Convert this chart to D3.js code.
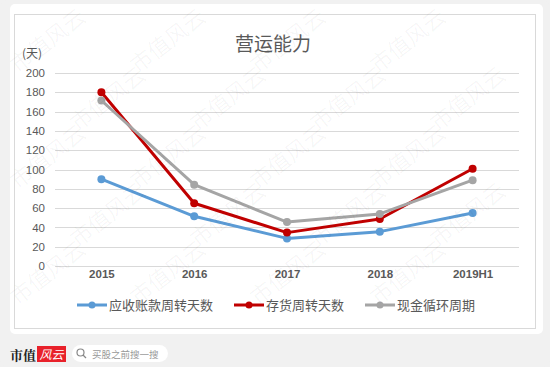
<!DOCTYPE html>
<html>
<head>
<meta charset="utf-8">
<script src="https://cdn.jsdelivr.net/npm/d3@7/dist/d3.min.js"></script>
<style>
  html, body { margin: 0; padding: 0; background: #f1f1f1; }
  svg { display: block; font-family: "Liberation Sans", "Noto Sans CJK SC", sans-serif; }
</style>
</head>
<body>
<svg id="chart" width="550" height="367"></svg>
<script>
'use strict';

var categories = ['2015', '2016', '2017', '2018', '2019H1'];
var receivableDays = [90, 51.5, 28.6, 35.6, 55];
var inventoryDays = [180, 65, 34.6, 48.7, 100.8];
var cashCycle = [171.5, 84.3, 45.5, 54, 88.9];
var yTicks = [0, 20, 40, 60, 80, 100, 120, 140, 160, 180, 200];

var series = [
  { name: '应收账款周转天数', values: receivableDays, color: '#5b9bd5' },
  { name: '存货周转天数', values: inventoryDays, color: '#c00000' },
  { name: '现金循环周期', values: cashCycle, color: '#a5a5a5' }
];

var svg = d3.select('#chart');
var cjk = '"Noto Sans CJK SC", sans-serif';

// card + chart frame
svg.append('rect')
  .attr('x', 0).attr('y', 0).attr('width', 550).attr('height', 367)
  .attr('rx', 8).attr('fill', '#f1f1f1');
svg.append('rect')
  .attr('x', 10).attr('y', 4).attr('width', 533).attr('height', 330)
  .attr('rx', 5).attr('fill', '#fff');
svg.append('rect')
  .attr('x', 14.5).attr('y', 14.5).attr('width', 521).attr('height', 314)
  .attr('fill', 'none').attr('stroke', '#d9d9d9');

var x = d3.scalePoint()
  .domain(categories)
  .range([55, 519])
  .padding(0.5);

var y = d3.scaleLinear()
  .domain([0, 200])
  .range([266, 73]);

// gridlines
svg.append('g')
  .selectAll('line')
  .data(yTicks)
  .enter().append('line')
  .attr('x1', 55).attr('x2', 519)
  .attr('y1', function(d) { return Math.round(y(d)) + 0.5; })
  .attr('y2', function(d) { return Math.round(y(d)) + 0.5; })
  .attr('stroke', '#d9d9d9').attr('stroke-width', 1);

var yAxis = svg.append('g')
  .attr('transform', 'translate(45,0)')
  .call(d3.axisLeft(y).tickValues(yTicks).tickSize(0).tickPadding(0));
yAxis.select('.domain').remove();
yAxis.selectAll('text')
  .attr('fill', '#595959').attr('font-size', 11.5)
  .attr('font-family', '"Liberation Sans", sans-serif');

var xAxis = svg.append('g')
  .attr('transform', 'translate(0,270)')
  .call(d3.axisBottom(x).tickSize(0).tickPadding(0));
xAxis.select('.domain').remove();
xAxis.selectAll('text')
  .attr('fill', '#595959').attr('font-size', 11.5).attr('font-weight', 'bold')
  .attr('font-family', '"Liberation Sans", sans-serif');

svg.append('text')
  .attr('x', 22).attr('y', 58)
  .attr('fill', '#595959').attr('font-size', 12)
  .attr('font-family', cjk)
  .text('(天)');

svg.append('text')
  .attr('x', 273).attr('y', 51)
  .attr('text-anchor', 'middle')
  .attr('fill', '#595959').attr('font-size', 19)
  .attr('font-family', cjk)
  .text('营运能力');

var line = d3.line()
  .x(function(d, i) { return x(categories[i]); })
  .y(function(d) { return y(d); });

var gSeries = svg.append('g')
  .selectAll('g')
  .data(series)
  .enter().append('g');

gSeries.append('path')
  .attr('d', function(d) { return line(d.values); })
  .attr('fill', 'none')
  .attr('stroke', function(d) { return d.color; })
  .attr('stroke-width', 3)
  .attr('stroke-linejoin', 'round');

gSeries.selectAll('circle')
  .data(function(d) { return d.values.map(function(v, i) { return { v: v, i: i, color: d.color }; }); })
  .enter().append('circle')
  .attr('cx', function(d) { return x(categories[d.i]); })
  .attr('cy', function(d) { return y(d.v); })
  .attr('r', 4)
  .attr('fill', function(d) { return d.color; });

// legend
var legendX = [77, 234, 365];
var legend = svg.append('g')
  .selectAll('g')
  .data(series)
  .enter().append('g')
  .attr('transform', function(d, i) { return 'translate(' + legendX[i] + ',305)'; });
legend.append('line')
  .attr('x1', 0).attr('x2', 30)
  .attr('stroke', function(d) { return d.color; })
  .attr('stroke-width', 3);
legend.append('circle')
  .attr('cx', 15).attr('r', 3.5)
  .attr('fill', function(d) { return d.color; });
legend.append('text')
  .attr('x', 32).attr('dy', '0.36em')
  .attr('fill', '#595959').attr('font-size', 13)
  .attr('font-family', cjk)
  .text(function(d) { return d.name; });

// watermarks, only the ones that fit fully inside the picture
var marks = [];
for (var r = 0; r < 6; r++) {
  for (var c = 0; c < 6; c++) {
    var mx = c * 120 + (r % 2) * 60 + 18, my = r * 58 + 74;
    if (mx + 74 < 548 && my + 4 < 365) marks.push([mx, my]);
  }
}
svg.append('g')
  .selectAll('text')
  .data(marks)
  .enter().append('text')
  .attr('transform', function(d) { return 'translate(' + d[0] + ',' + d[1] + ') rotate(-38)'; })
  .attr('fill', '#000').attr('fill-opacity', 0.04)
  .attr('font-size', 22)
  .attr('font-family', cjk)
  .text('市值风云');

// footer
svg.append('text')
  .attr('x', 10).attr('y', 360)
  .attr('fill', '#222').attr('font-size', 13).attr('font-weight', 'bold')
  .attr('font-family', '"Noto Serif CJK SC", ' + cjk)
  .text('市值');
svg.append('rect')
  .attr('x', 37).attr('y', 346).attr('width', 29).attr('height', 16)
  .attr('fill', '#e8212a');
svg.append('text')
  .attr('x', 51.5).attr('y', 358.5)
  .attr('text-anchor', 'middle')
  .attr('fill', '#fff').attr('font-size', 12).attr('font-style', 'italic')
  .attr('font-family', cjk)
  .text('风云');
svg.append('rect')
  .attr('x', 72).attr('y', 345).attr('width', 96).attr('height', 17)
  .attr('rx', 8.5).attr('fill', '#fff');
svg.append('circle')
  .attr('cx', 80.5).attr('cy', 352.5).attr('r', 3.5)
  .attr('fill', 'none').attr('stroke', '#888').attr('stroke-width', 1.2);
svg.append('line')
  .attr('x1', 83).attr('y1', 355).attr('x2', 86).attr('y2', 358)
  .attr('stroke', '#888').attr('stroke-width', 1.3);
svg.append('text')
  .attr('x', 92).attr('y', 357.5)
  .attr('fill', '#999').attr('font-size', 9.5)
  .attr('font-family', cjk)
  .text('买股之前搜一搜');
</script>
</body>
</html>
